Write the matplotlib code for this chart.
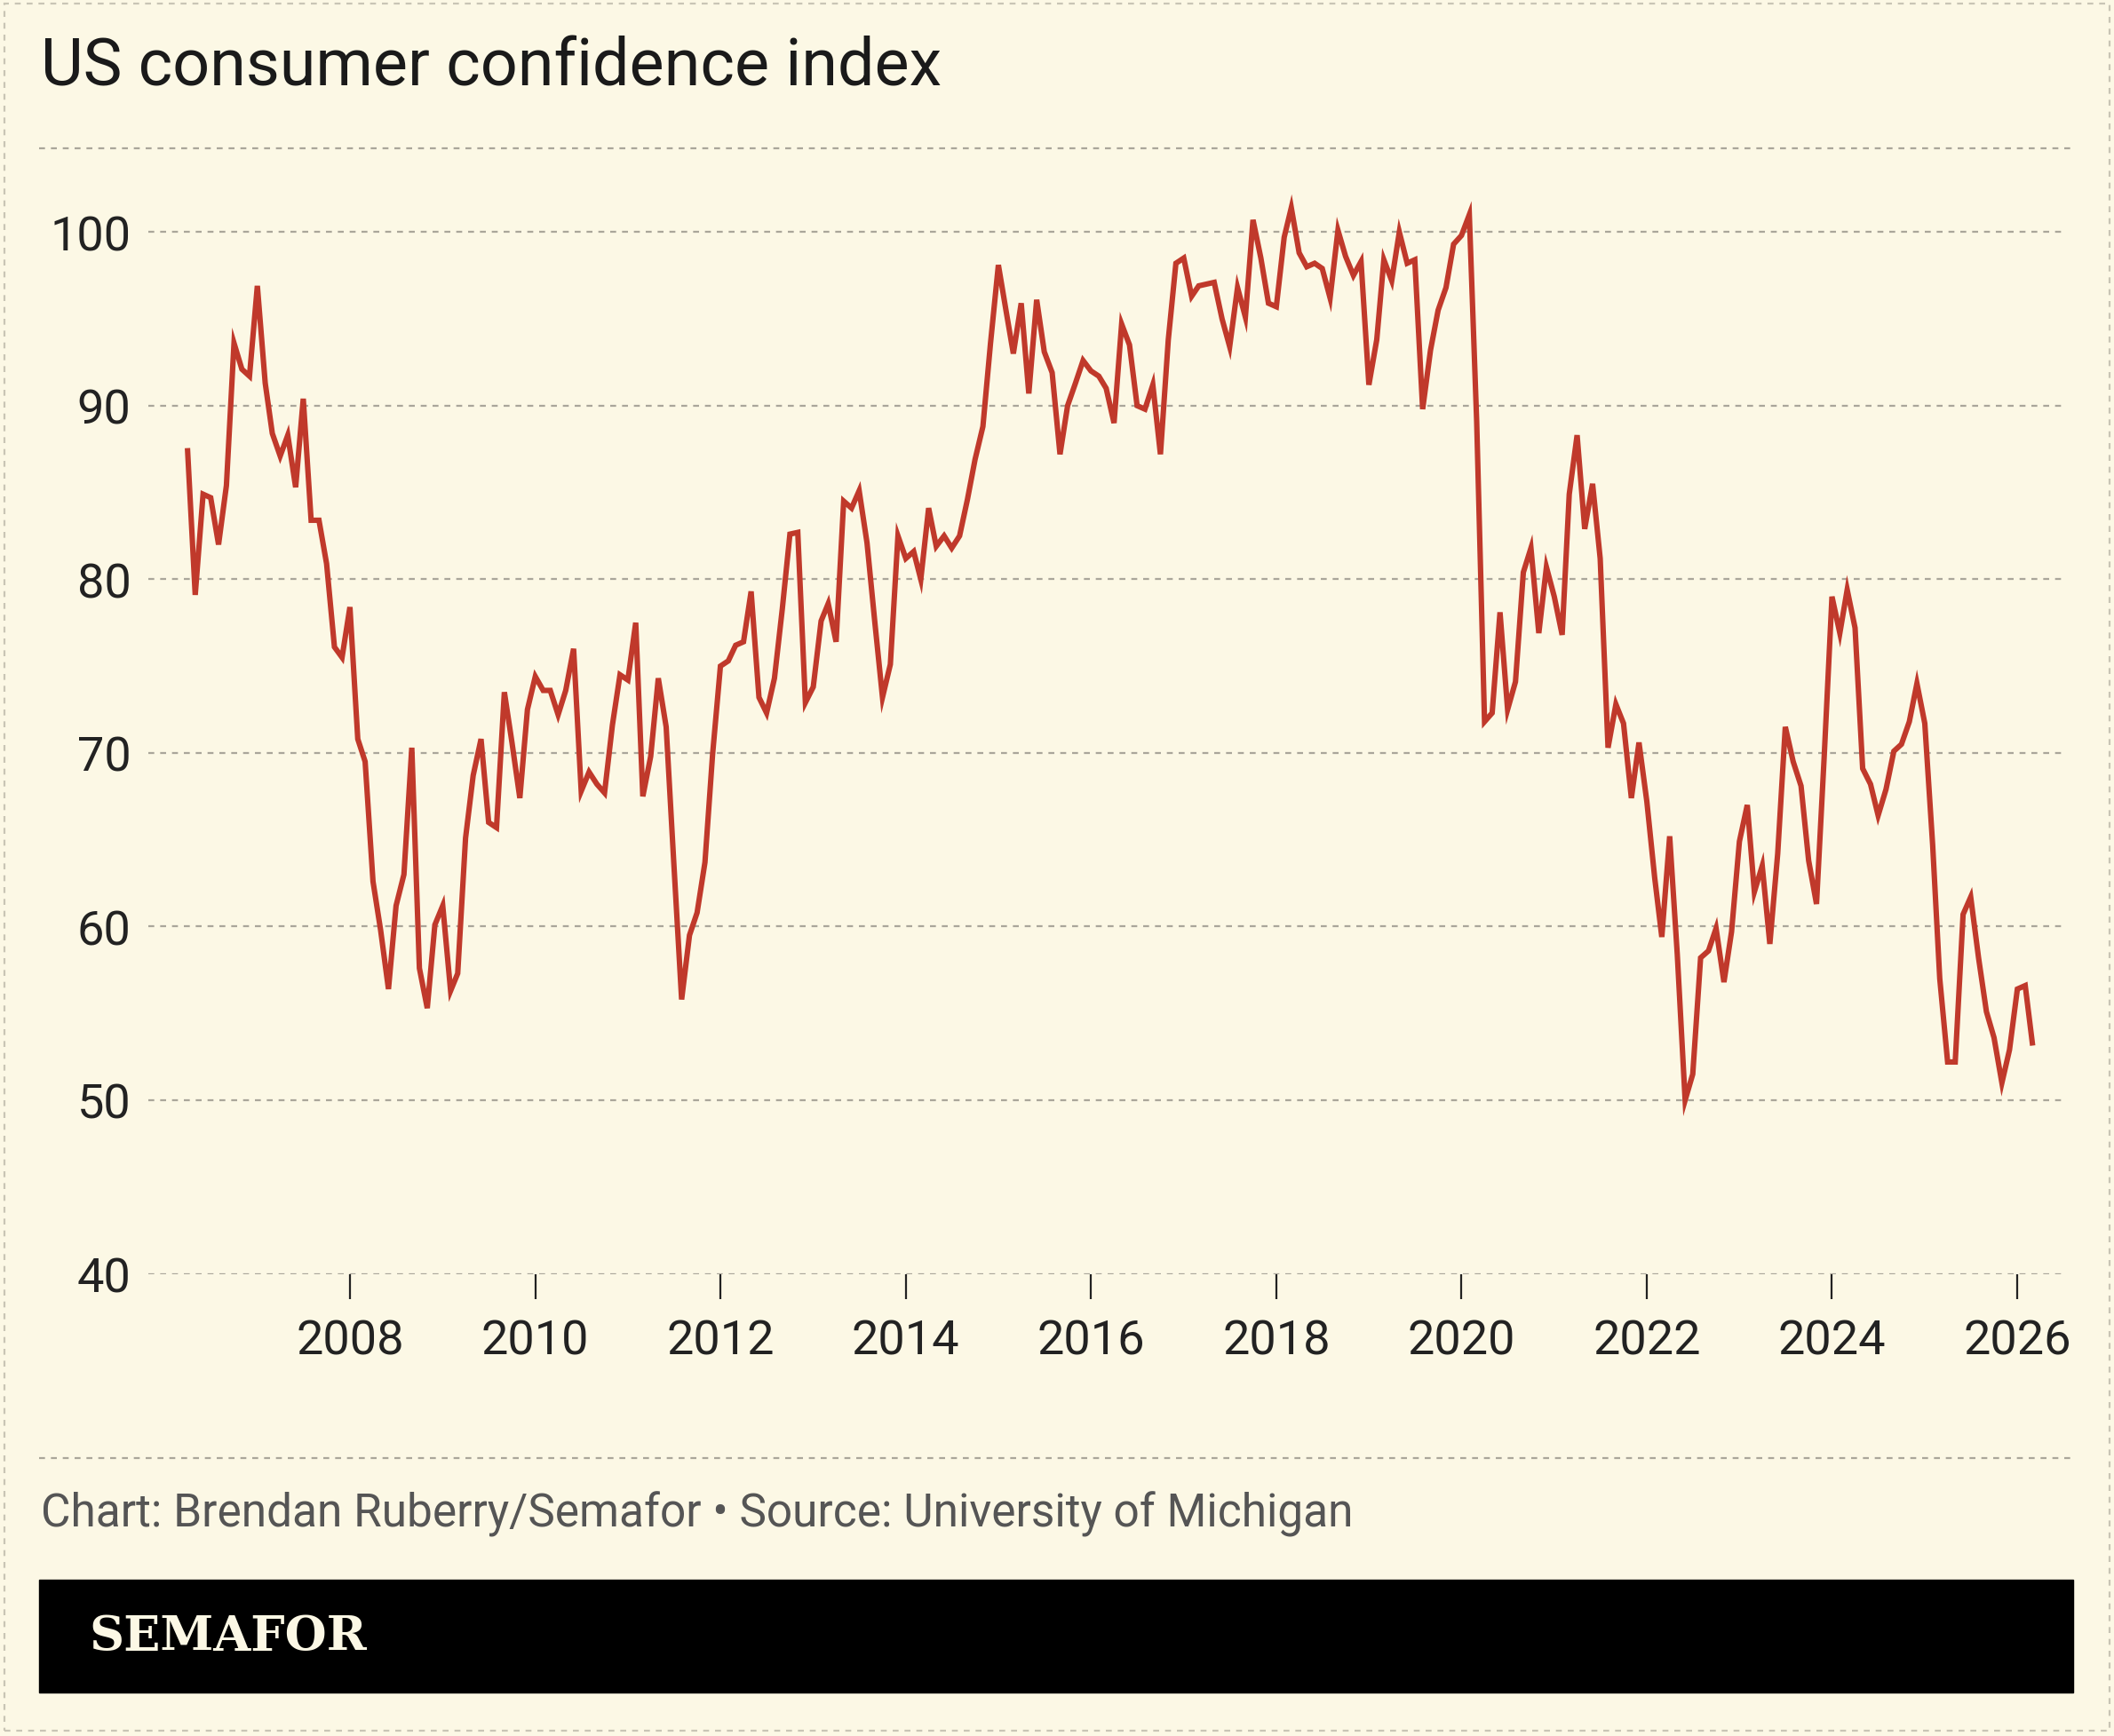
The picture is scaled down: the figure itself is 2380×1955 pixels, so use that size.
import matplotlib
matplotlib.use("Agg")
import matplotlib.pyplot as plt
import pandas as pd
from matplotlib.patches import Rectangle
from matplotlib.lines import Line2D

start_month = "2006-04"
values = [87.4, 79.1, 84.9, 84.7, 82.0, 85.4, 93.6, 92.1, 91.7,
          96.9, 91.3, 88.4, 87.1, 88.3, 85.3, 90.4, 83.4, 83.4, 80.9, 76.1, 75.5,
          78.4, 70.8, 69.5, 62.6, 59.8, 56.4, 61.2, 63.0, 70.3, 57.6, 55.3, 60.1,
          61.2, 56.3, 57.3, 65.1, 68.7, 70.8, 66.0, 65.7, 73.5, 70.6, 67.4, 72.5,
          74.4, 73.6, 73.6, 72.2, 73.6, 76.0, 67.8, 68.9, 68.2, 67.7, 71.6, 74.5,
          74.2, 77.5, 67.5, 69.8, 74.3, 71.5, 63.7, 55.8, 59.5, 60.8, 63.7, 69.9,
          75.0, 75.3, 76.2, 76.4, 79.3, 73.2, 72.3, 74.3, 78.3, 82.6, 82.7, 72.9,
          73.8, 77.6, 78.6, 76.4, 84.5, 84.1, 85.1, 82.1, 77.5, 73.2, 75.1, 82.5,
          81.2, 81.6, 80.0, 84.1, 81.9, 82.5, 81.8, 82.5, 84.6, 86.9, 88.8, 93.6,
          98.1, 95.4, 93.0, 95.9, 90.7, 96.1, 93.1, 91.9, 87.2, 90.0, 91.3, 92.6,
          92.0, 91.7, 91.0, 89.0, 94.7, 93.5, 90.0, 89.8, 91.2, 87.2, 93.8, 98.2,
          98.5, 96.3, 96.9, 97.0, 97.1, 95.0, 93.4, 96.8, 95.1, 100.7, 98.5, 95.9,
          95.7, 99.7, 101.4, 98.8, 98.0, 98.2, 97.9, 96.2, 100.1, 98.6, 97.5, 98.3,
          91.2, 93.8, 98.4, 97.2, 100.0, 98.2, 98.4, 89.8, 93.2, 95.5, 96.8, 99.3,
          99.8, 101.0, 89.1, 71.8, 72.3, 78.1, 72.5, 74.1, 80.4, 81.8, 76.9, 80.7,
          79.0, 76.8, 84.9, 88.3, 82.9, 85.5, 81.2, 70.3, 72.8, 71.7, 67.4, 70.6,
          67.2, 62.8, 59.4, 65.2, 58.4, 50.0, 51.5, 58.2, 58.6, 59.9, 56.8, 59.7,
          64.9, 67.0, 62.0, 63.5, 59.0, 64.2, 71.5, 69.5, 68.1, 63.8, 61.3, 69.7,
          79.0, 76.9, 79.4, 77.2, 69.1, 68.2, 66.4, 67.9, 70.1, 70.5, 71.8, 74.0,
          71.7, 64.7, 57.0, 52.2, 52.2, 60.7, 61.7, 58.2, 55.1, 53.6, 51.0, 52.9,
          56.4, 56.6, 53.3]
y_ticks = [40, 50, 60, 70, 80, 90, 100]
x_tick_years = [2008, 2010, 2012, 2014, 2016, 2018, 2020, 2022, 2024, 2026]

dates = pd.date_range(start_month, periods=len(values), freq="MS")

BG = "#fcf8e5"
RED = "#c0392b"
GRID = "#aaa69a"
W, H = 1568, 1289

fig = plt.figure(figsize=(23.8, 19.56), dpi=100, facecolor=BG)
def fx(x): return x / W
def fy(y): return 1 - y / H

ax = fig.add_axes([fx(110), fy(946), fx(1533) - fx(110), fy(111) - fy(946)], facecolor=BG)
ax.plot(dates, values, color=RED, lw=4.4, solid_joinstyle="miter")
ax.set_ylim(40, 104.8)
ax.set_xlim(pd.Timestamp("2005-10-28"), pd.Timestamp("2026-07-15"))
ax.set_yticks(y_ticks)
ax.set_xticks([pd.Timestamp(f"{y}-01-01") for y in x_tick_years])
ax.set_xticklabels([str(y) for y in x_tick_years])
for y in y_ticks:
    ax.axhline(y, color=GRID, lw=1.6, ls=(0, (3, 3)), zorder=0)
for s in ax.spines.values():
    s.set_visible(False)
ax.tick_params(axis="y", length=0, pad=14, labelsize=39, labelcolor="#222")
ax.tick_params(axis="x", length=20, width=1.6, color="#222", pad=16, labelsize=39, labelcolor="#222")
for lab in ax.get_xticklabels() + ax.get_yticklabels():
    lab.set_family("Roboto")

for yy in (111, 1083):
    fig.add_artist(Line2D([fx(29), fx(1538)], [fy(yy), fy(yy)], color=GRID, lw=1.6, ls=(0, (3, 3))))
fig.add_artist(Rectangle((fx(3), fy(1285)), fx(1562), fy(3) - fy(1285), fill=False,
                         ec="#c9c5b5", lw=1.6, ls=(0, (3, 3))))

fig.text(fx(30), fy(50), "US consumer confidence index", fontsize=53, family="Roboto",
         color="#1a1a1a", va="center")
fig.text(fx(30), fy(1124), "Chart: Brendan Ruberry/Semafor \u2022 Source: University of Michigan",
         fontsize=37, family="Roboto", color="#555", va="center")
fig.add_artist(Rectangle((fx(29), fy(1257)), fx(1538) - fx(29), fy(1173) - fy(1257),
                         color="black"))
fig.text(fx(66), fy(1215), "SEMAFOR", fontsize=39, family="DejaVu Serif", weight="bold",
         color="#fcf8e5", va="center")

fig.savefig("out.png", dpi=100, facecolor=BG)
